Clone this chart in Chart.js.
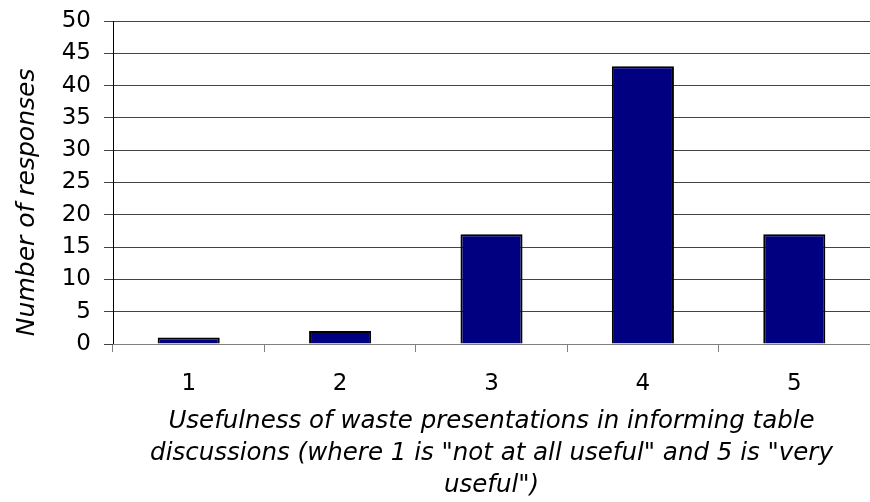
<!DOCTYPE html>
<html>
<head>
<meta charset="utf-8">
<script src="https://cdn.jsdelivr.net/npm/chart.js@4"></script>
<style>
  html, body { margin: 0; padding: 0; background: #fff; }
  #wrap { width: 870px; height: 502px; }
</style>
</head>
<body>
<div id="wrap"><canvas id="grafico"></canvas></div>
<script>
const categorias = ["1", "2", "3", "4", "5"];
const respostas = [1, 2, 17, 43, 17];
// espaços no fim deslocam o título um pouco para baixo, como no original
const tituloY = "Number of responses\u00a0\u00a0\u00a0\u00a0\u00a0";
const tituloX = [
  "Usefulness of waste presentations in informing table",
  "discussions (where 1 is \"not at all useful\" and 5 is \"very",
  "useful\")",
];

const ctx = document.getElementById("grafico");

new Chart(ctx, {
  type: "bar",
  data: {
    labels: categorias,
    datasets: [
      {
        label: "Responses",
        data: respostas,
        backgroundColor: "#000080",
        borderColor: "#000000",
        borderWidth: 2,
        categoryPercentage: 0.41,
        barPercentage: 1,
      },
    ],
  },
  options: {
    responsive: true,
    maintainAspectRatio: false,
    animation: false,
    layout: { padding: { top: 21, right: 0, left: 0, bottom: 0 } },
    plugins: {
      legend: { display: false },
      tooltip: { enabled: false },
    },
    scales: {
      y: {
        min: 0,
        max: 50,
        ticks: {
          stepSize: 5,
          color: "#000",
          padding: 13,
          font: { family: "DejaVu Sans", size: 23 },
        },
        grid: {
          color: "#444",
          lineWidth: 1,
          tickLength: 9,
        },
        border: { color: "#000", width: 1 },
        title: {
          display: true,
          text: tituloY,
          color: "#000",
          padding: { top: 12, bottom: 0 },
          font: { family: "DejaVu Sans", size: 25, style: "italic" },
        },
        afterFit: (scale) => {
          scale.width = 113;
          scale.paddingTop = 0;
          scale.paddingBottom = 0;
        },
      },
      x: {
        offset: true,
        ticks: {
          color: "#000",
          padding: 18,
          font: { family: "DejaVu Sans", size: 23 },
        },
        grid: {
          offset: true,
          drawOnChartArea: false,
          color: "#808080",
          tickLength: 8,
        },
        border: { color: "#808080", width: 1 },
        title: {
          display: true,
          text: tituloX,
          color: "#000",
          padding: { top: 0, bottom: 0 },
          font: { family: "DejaVu Sans", size: 24.5, style: "italic", lineHeight: 1.31 },
        },
        afterFit: (scale) => {
          scale.height = 158;
        },
      },
    },
  },
});
</script>
</body>
</html>
